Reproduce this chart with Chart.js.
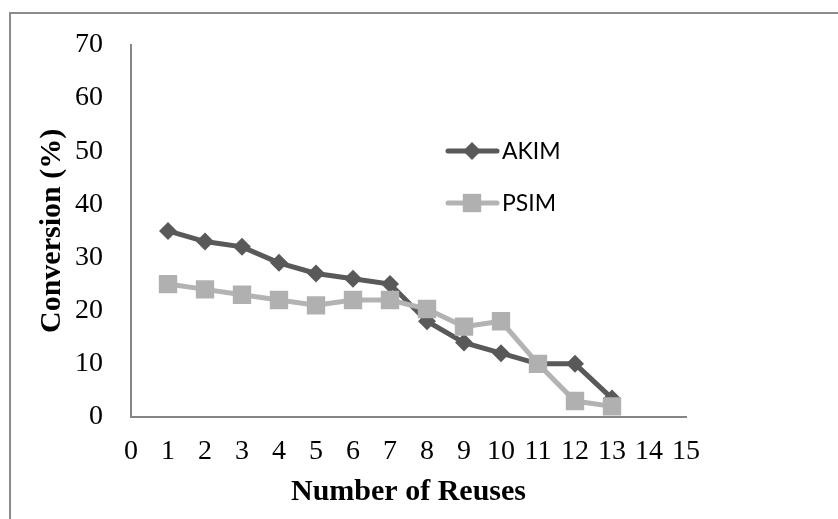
<!DOCTYPE html>
<html>
<head>
<meta charset="utf-8">
<script src="https://cdn.jsdelivr.net/npm/chart.js@4.4.1/dist/chart.umd.min.js"></script>
<style>
  html, body { margin: 0; padding: 0; background: #fff; }
  #wrap { width: 838px; height: 519px; position: relative; }
</style>
</head>
<body>
<div id="wrap"><canvas id="reuseChart"></canvas></div>
<script>
// data
const reuses = [1, 2, 3, 4, 5, 6, 7, 8, 9, 10, 11, 12, 13];
const akim = [35, 33, 32, 29, 27, 26, 25, 18, 14, 12, 10, 10, 3.5];
const psim = [25, 24, 23, 22, 21, 22, 22, 20.3, 17, 18, 10, 3, 2];
const xTicks = [0, 1, 2, 3, 4, 5, 6, 7, 8, 9, 10, 11, 12, 13, 14, 15];
const yTicks = [0, 10, 20, 30, 40, 50, 60, 70];

const toPoints = (vals) => vals.map((v, i) => ({ x: reuses[i], y: v }));

// outer frame (left + top only, the rest is cut off)
const framePlugin = {
    id: 'frame',
    beforeDraw(chart) {
        const ctx = chart.ctx;
        ctx.save();
        ctx.strokeStyle = '#8c8c8c';
        ctx.lineWidth = 2;
        ctx.beginPath();
        ctx.moveTo(10, 519);
        ctx.lineTo(10, 13);
        ctx.lineTo(838, 13);
        ctx.stroke();
        ctx.restore();
    }
};

// legend drawn inside the plot, line + marker + label
const legendPlugin = {
    id: 'innerLegend',
    afterDraw(chart) {
        const ctx = chart.ctx;
        const rows = [151, 203];
        chart.data.datasets.forEach((ds, i) => {
            const y = rows[i];
            ctx.save();
            ctx.strokeStyle = ds.borderColor;
            ctx.lineWidth = ds.borderWidth;
            ctx.lineCap = 'round';
            ctx.beginPath();
            ctx.moveTo(448, y);
            ctx.lineTo(497, y);
            ctx.stroke();
            ctx.fillStyle = ds.pointBackgroundColor;
            Chart.helpers.drawPoint(ctx, {
                pointStyle: ds.pointStyle,
                radius: ds.pointRadius,
                rotation: 0,
                borderWidth: 0
            }, 472, y);
            ctx.fillStyle = '#000';
            ctx.font = '23px Lato, "Open Sans", sans-serif';
            ctx.textBaseline = 'middle';
            ctx.textAlign = 'left';
            ctx.fillText(ds.label, 502, y + 1);
            ctx.restore();
        });
    }
};

const serif = '"Liberation Serif", "Times New Roman", serif';

const ctx = document.getElementById('reuseChart').getContext('2d');
const reuseChart = new Chart(ctx, {
    type: 'line',
    data: {
        datasets: [
            {
                label: 'AKIM',
                data: toPoints(akim),
                borderColor: '#595959',
                borderWidth: 5,
                pointStyle: 'rectRot',
                pointRadius: 9,
                pointBackgroundColor: '#595959',
                pointBorderWidth: 0,
                tension: 0,
                order: 1
            },
            {
                label: 'PSIM',
                data: toPoints(psim),
                borderColor: '#b3b3b3',
                borderWidth: 5,
                pointStyle: 'rect',
                pointRadius: 13,
                pointBackgroundColor: '#b0b0b0',
                pointBorderWidth: 0,
                tension: 0,
                order: 0
            }
        ]
    },
    options: {
        responsive: true,
        maintainAspectRatio: false,
        animation: false,
        layout: {
            padding: { left: 30, top: 38, right: 152, bottom: 0 }
        },
        plugins: {
            legend: { display: false },
            tooltip: { enabled: false }
        },
        scales: {
            x: {
                type: 'linear',
                min: 0,
                max: 15,
                afterBuildTicks(scale) {
                    scale.ticks = xTicks.map(v => ({ value: v }));
                },
                afterFit(scale) {
                    scale.height = 102;
                },
                grid: { display: false, drawTicks: false },
                border: { display: true, color: '#868686', width: 2 },
                ticks: {
                    autoSkip: false,
                    maxRotation: 0,
                    padding: 18,
                    color: '#000',
                    font: { family: serif, size: 28 }
                },
                title: {
                    display: true,
                    text: 'Number of Reuses',
                    color: '#000',
                    padding: { top: 0, bottom: 9 },
                    font: { family: serif, size: 30, weight: 'bold' }
                }
            },
            y: {
                min: 0,
                max: 70,
                afterBuildTicks(scale) {
                    scale.ticks = yTicks.map(v => ({ value: v }));
                },
                afterFit(scale) {
                    scale.width = 101;
                },
                grid: { display: false, drawTicks: false },
                border: { display: true, color: '#868686', width: 2 },
                ticks: {
                    padding: 28,
                    color: '#000',
                    font: { family: serif, size: 28 }
                },
                title: {
                    display: true,
                    text: 'Conversion (%)',
                    color: '#000',
                    padding: { top: 4, bottom: 0 },
                    font: { family: serif, size: 30, weight: 'bold' }
                }
            }
        }
    },
    plugins: [framePlugin, legendPlugin]
});
</script>
</body>
</html>
